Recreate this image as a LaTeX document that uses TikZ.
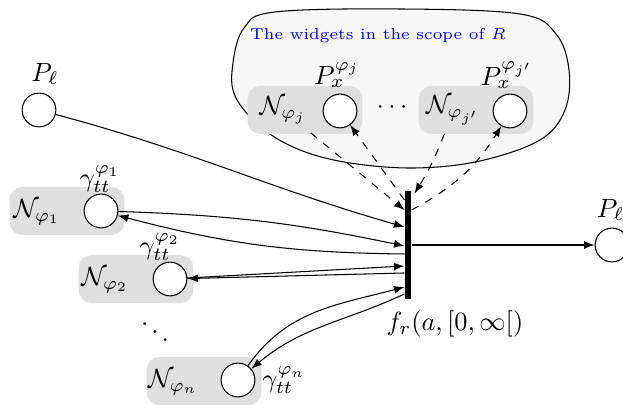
\documentclass[tikz,border=0pt]{standalone}
\usetikzlibrary{arrows,calc}
\begin{document}
\begin{tikzpicture}[x=0.01333cm, y=0.01333cm, >=latex,
    place/.style={circle,draw,fill=white,minimum size=0.45cm,inner sep=0pt},
    widget/.style={fill=gray!25,rounded corners=0.17cm,minimum width=1.53cm,minimum height=0.64cm,inner sep=0pt},
    transbar/.style={fill=black,minimum width=0.08cm,minimum height=1.44cm,inner sep=0pt}]
    \useasboundingbox (0,0) rectangle (623,408);

    % scope of R
    \draw[fill=black!3] plot[smooth cycle,tension=0.6] coordinates {(275,396) (400,399) (520,394) (556,374) (569,338) (565,298) (540,268) (480,247) (415,240) (350,245) (300,258) (262,280) (235,312) (233,345) (244,380)};
    \node[text=blue] (scopetxt) at (378,372) {\fontsize{6}{7}\selectfont The widgets in the scope of $R$};

    % widgets
    \node[widget] (wj) at (305,298) {};
    \node[widget] (wjp) at (476,298) {};
    \node[widget] (w1) at (67,197) {};
    \node[widget] (w2) at (136,129) {};
    \node[widget] (wn) at (204,27) {};

    % places
    \node[place] (Pl) at (39,298) {};
    \node[place] (t1) at (101,197) {};
    \node[place] (t2) at (170,129) {};
    \node[place] (tn) at (238,28) {};
    \node[place] (xj) at (340,297) {};
    \node[place] (xjp) at (510,297) {};
    \node[place] (Plp) at (612,163) {};

    % transition
    \node[transbar] (fr) at (408,163) {};

    % labels
    \node (Pllab) at (45,334) {$P_\ell$};
    \node (Plplab) at (614,198) {$P_{\ell'}$};
    \node (N1) at (37,196) {$\mathcal{N}_{\varphi_1}$};
    \node (g1) at (100,229) {$\gamma_{tt}^{\varphi_1}$};
    \node (N2) at (105,128) {$\mathcal{N}_{\varphi_2}$};
    \node (g2) at (160,161) {$\gamma_{tt}^{\varphi_2}$};
    \node (dd) at (155,84) {$\ddots$};
    \node (Nn) at (173,26) {$\mathcal{N}_{\varphi_n}$};
    \node (gn) at (284,28) {$\gamma_{tt}^{\varphi_n}$};
    \node (Nj) at (283,298) {$\mathcal{N}_{\varphi_j}$};
    \node (Pxj) at (337,333) {$P_x^{\varphi_j}$};
    \node (cd) at (392,300) {$\cdots$};
    \node (Njp) at (453,298) {$\mathcal{N}_{\varphi_{j'}}$};
    \node (Pxjp) at (507,333) {$P_x^{\varphi_{j'}}$};
    \node (frlab) at (455,84) {$f_r(a,[0,\infty[)$};

    % arcs
    \draw[->] (Pl) to[out=-15,in=164] ($(fr.west)+(0,18)$);
    \draw[->] (t1) to[bend left=5] ($(fr.west)+(0,-1)$);
    \draw[->] ($(fr.west)+(0,-9)$) to[bend left=7] (t1);
    \draw[->] (t2) -- ($(fr.west)+(0,-21)$);
    \draw[->] ($(fr.west)+(0,-28)$) -- (t2);
    \draw[->] (tn) to[out=55,in=195] ($(fr.west)+(0,-42)$);
    \draw[->] ($(fr.west)+(0,-49)$) to[out=205,in=40] (tn);
    \draw[->] (fr) -- (Plp);

    \draw[->,dashed] (Nj) -- ($(fr.west)+(0,35)$);
    \draw[->,dashed] ($(fr.west)+(0,45)$) -- (xj);
    \draw[->,dashed] (Njp) to[bend left=5] ($(fr.north east)+(3,-3)$);
    \draw[->,dashed] ($(fr.east)+(0,35)$) to[bend right=15] (xjp);
\end{tikzpicture}
\end{document}
